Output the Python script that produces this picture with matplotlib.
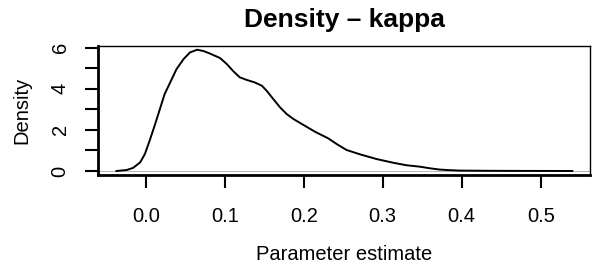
import matplotlib
matplotlib.use("Agg")
import matplotlib.pyplot as plt

plt.rcParams['font.family'] = ['Liberation Sans', 'DejaVu Sans']

# density curve (kappa estimates)
kappa_x = [-0.037, -0.024, -0.016, -0.007, -0.001, 0.005, 0.012, 0.018,
           0.024, 0.031, 0.039, 0.048, 0.056, 0.065, 0.073, 0.081, 0.094,
           0.1025, 0.111, 0.119, 0.128, 0.138, 0.147, 0.153, 0.1615, 0.170,
           0.1785, 0.187, 0.1953, 0.2143, 0.231, 0.2418, 0.2544, 0.2713,
           0.2924, 0.3134, 0.330, 0.347, 0.360, 0.372, 0.385, 0.398, 0.43,
           0.47, 0.50, 0.540]
kappa_density = [0.0, 0.05, 0.15, 0.42, 0.83, 1.48, 2.29, 3.02,
                 3.75, 4.31, 4.96, 5.45, 5.77, 5.90, 5.84, 5.72, 5.50,
                 5.21, 4.85, 4.56, 4.43, 4.31, 4.15, 3.91, 3.50, 3.10,
                 2.77, 2.53, 2.34, 1.91, 1.59, 1.31, 1.02, 0.81,
                 0.58, 0.40, 0.28, 0.21, 0.13, 0.07, 0.04, 0.02, 0.01,
                 0.005, 0.003, 0.0]

x_ticks = [0.0, 0.1, 0.2, 0.3, 0.4, 0.5]
x_labels = ["0.0", "0.1", "0.2", "0.3", "0.4", "0.5"]
y_ticks = [0, 1, 2, 3, 4, 5, 6]
y_labels = ["0", "", "2", "", "4", "", "6"]

fig = plt.figure(figsize=(5.99, 2.68), dpi=100)
ax = fig.add_axes([98 / 599, 93 / 268, 492 / 599, 129 / 268])

ax.axhline(0, color="#aaaaaa", lw=0.6, zorder=1)
ax.plot(kappa_x, kappa_density, color="black", lw=1.4, zorder=2,
        solid_joinstyle="round")

ax.set_xlim(-0.0604, 0.5624)
ax.set_ylim(-0.195, 6.083)
ax.set_xticks(x_ticks, x_labels)
ax.set_yticks(y_ticks, y_labels)
ax.tick_params(axis="both", direction="out", length=9.4, width=1.5,
               labelsize=14.5)
ax.tick_params(axis="x", pad=13.5)
ax.tick_params(axis="y", pad=11, labelrotation=90)
for lab in ax.get_yticklabels():
    lab.set_va("center")

ax.spines["left"].set_linewidth(2.0)
ax.spines["bottom"].set_linewidth(2.0)
ax.spines["top"].set_linewidth(1.0)
ax.spines["right"].set_linewidth(1.0)

ax.set_title("Density \u2013 kappa", fontsize=19, fontweight="bold", pad=14)
ax.set_xlabel("Parameter estimate", fontsize=14.5, labelpad=14)
ax.set_ylabel("Density", fontsize=14.5, labelpad=14)

fig.savefig("out.png", dpi=100)
